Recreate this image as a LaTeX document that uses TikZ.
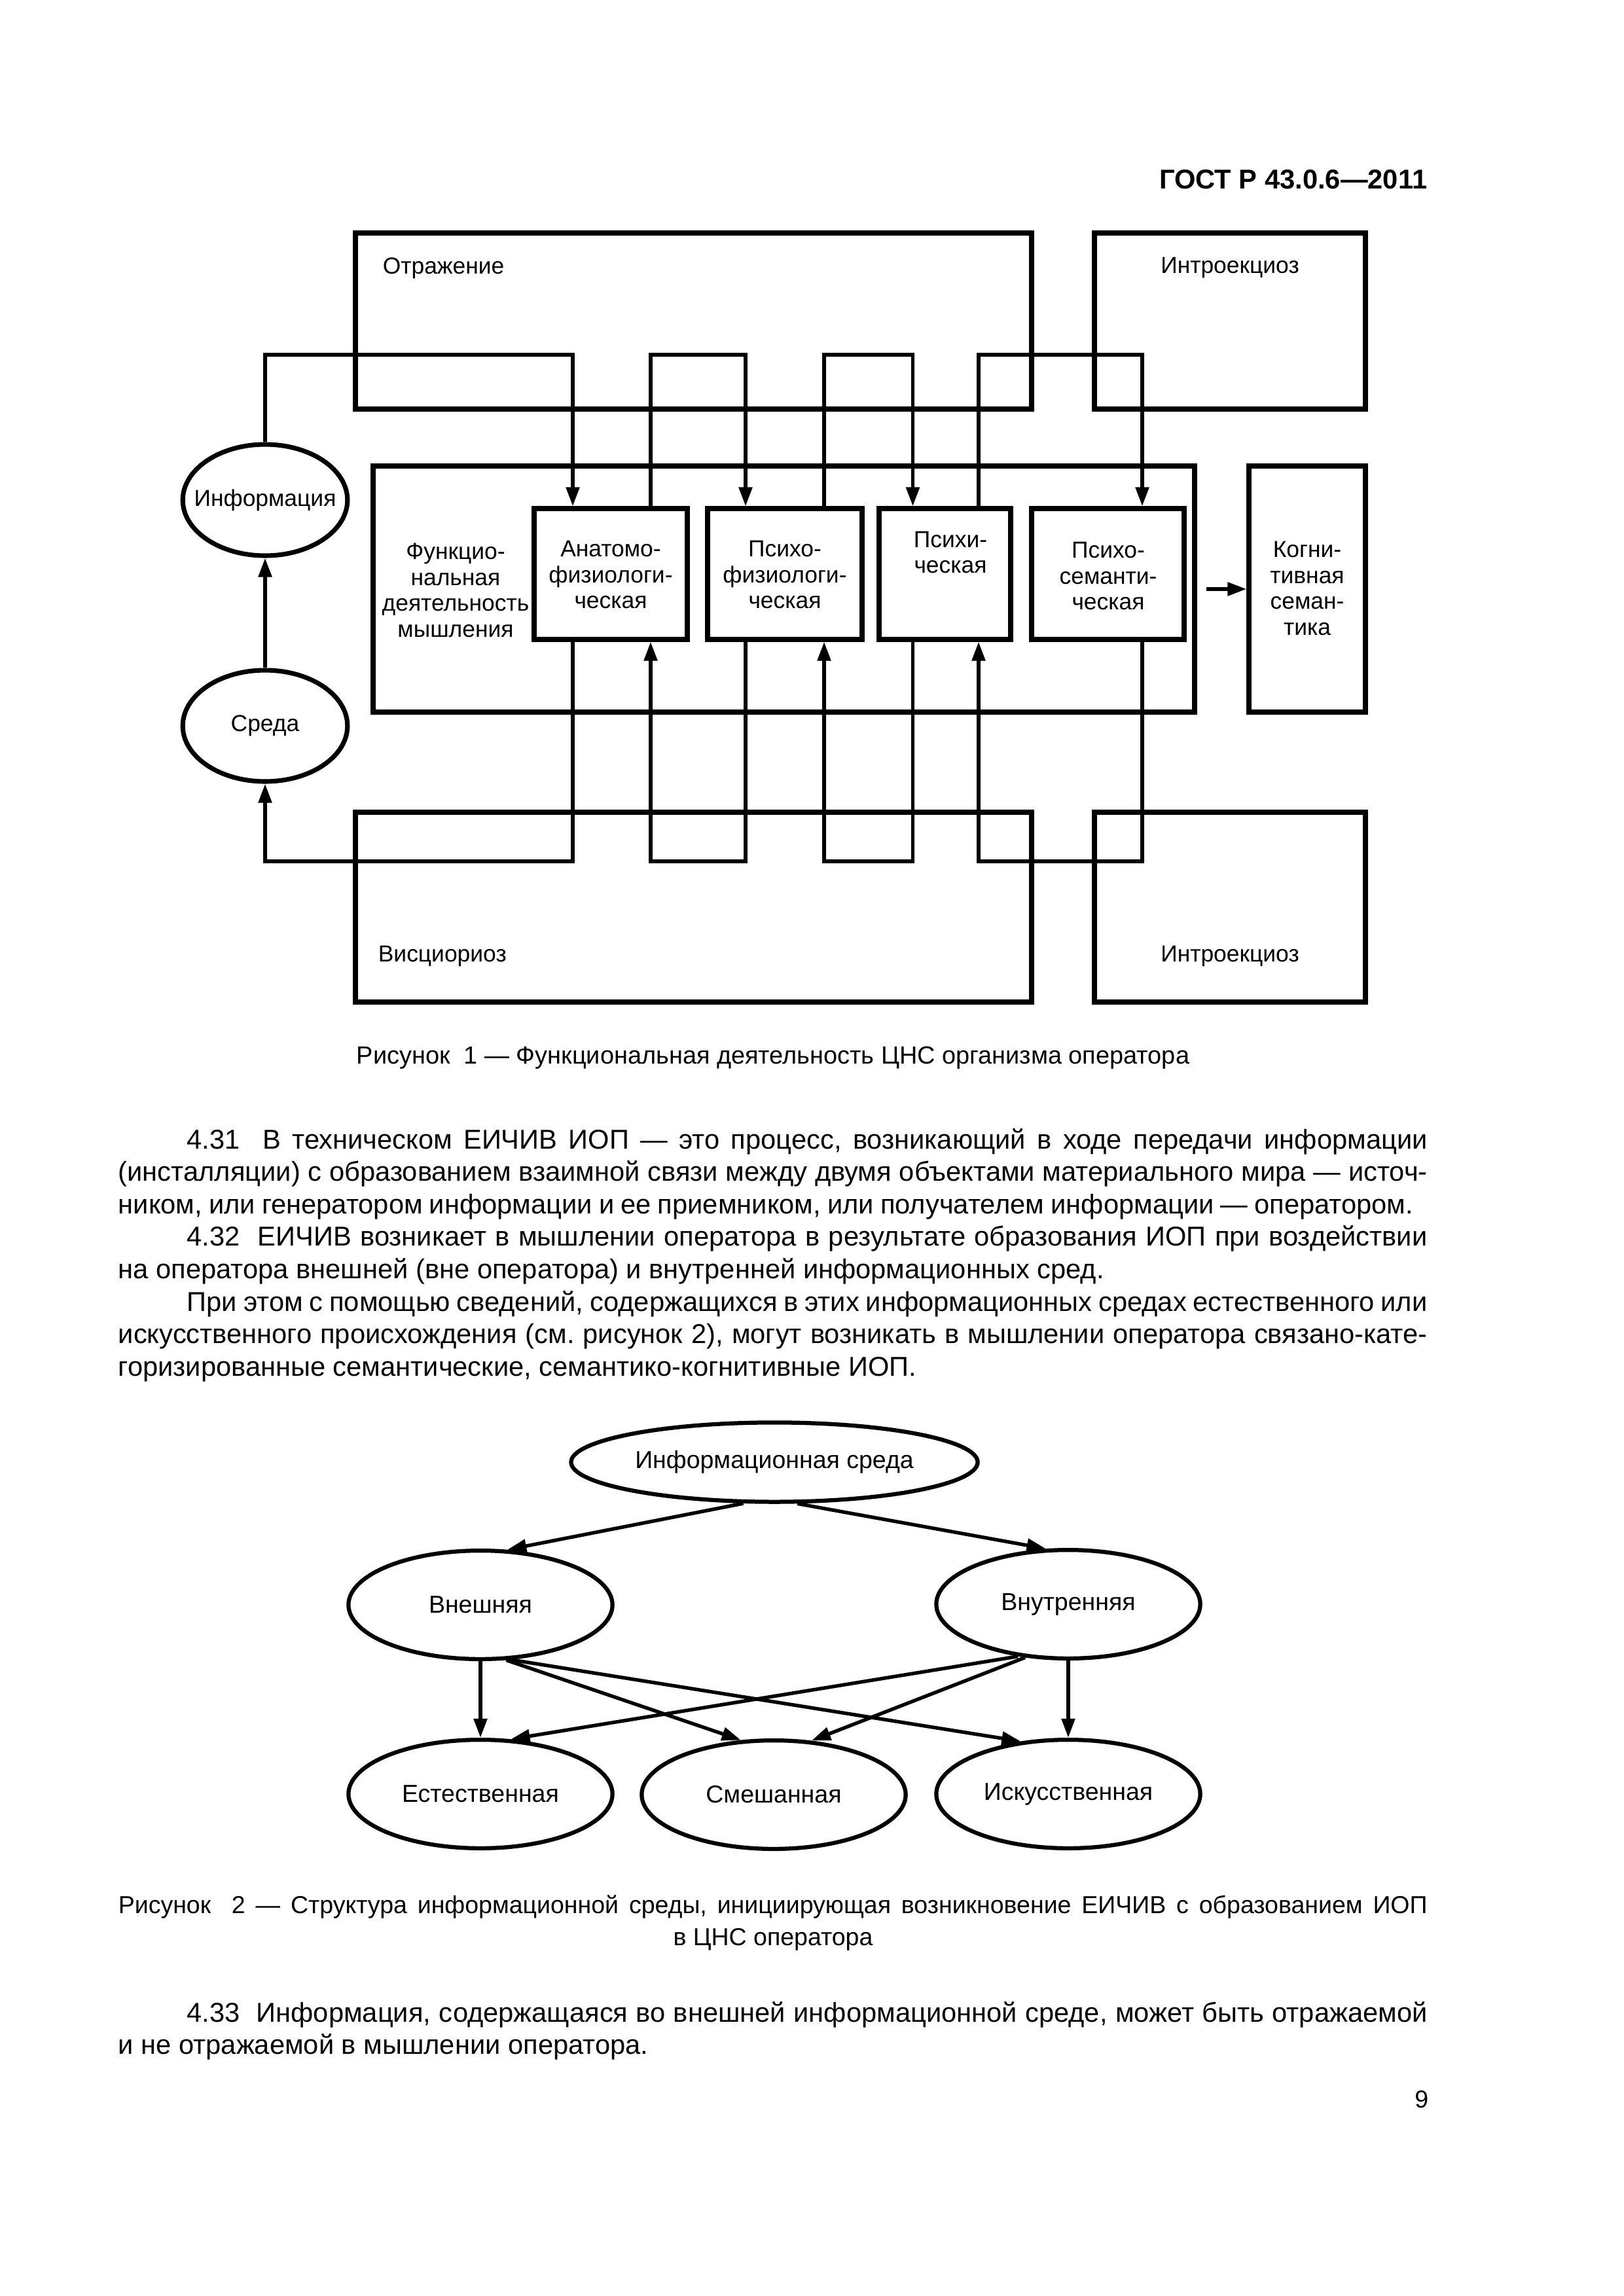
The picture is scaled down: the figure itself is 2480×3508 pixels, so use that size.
\documentclass[tikz,border=0pt]{standalone}
\usepackage{fontspec}
\setmainfont{Liberation Sans}
\usetikzlibrary{arrows.meta,shapes.geometric,fit}
\frenchspacing
\begin{document}
\begin{tikzpicture}[x=0.240031pt,y=-0.240031pt,
  box/.style={draw,line width=1.7pt,inner sep=0pt},
  conn/.style={line width=1.35pt},
  arr/.style={-{Triangle[length=7pt,width=4.8pt]}},
  fa/.style={font=\fontsize{8.5pt}{9.5pt}\selectfont},
  lbl/.style={fa,inner sep=0pt,align=center},
  oval1/.style={draw,ellipse,line width=1.7pt,inner sep=0pt,minimum width=60.4pt,minimum height=40.8pt,fa},
  oval2/.style={draw,ellipse,line width=1.5pt,inner sep=0pt,minimum width=96.8pt,minimum height=39.8pt,font=\fontsize{9pt}{11pt}\selectfont},
  conn2/.style={line width=1.3pt},
  bodytext/.style={font=\fontsize{10pt}{12pt}\selectfont,inner sep=0pt},
  captext/.style={font=\fontsize{9pt}{11pt}\selectfont,inner sep=0pt},
]
\useasboundingbox (0,0) rectangle (2480,3508);
\fill[white] (0,0) rectangle (2480,3508);

% header
\node[font=\fontsize{10pt}{12pt}\selectfont\bfseries,inner sep=0pt,anchor=base east] (hdr) at (2181,288) {ГОСТ Р 43.0.6—2011};

% ---------- Figure 1 ----------
\node[box,fit={(543,356)(1576,625)}] (refl) {};
\node[fa,inner sep=0pt,anchor=base west] (reflt) at (584,418) {Отражение};
\node[box,fit={(1672,356)(2086,625)}] (intT) {};
\node[fa,inner sep=0pt,anchor=base] (intTt) at (1879,417) {Интроекциоз};

\node[box,fit={(570,712)(1825,1088)}] (funct) {};
\node[lbl] (functt) at (696,902) {Функцио-\\нальная\\деятельность\\мышления};
\node[box,fit={(816,777)(1050,977)}] (anat) {};
\node[lbl] (anatt) at (933,878) {Анатомо-\\физиологи-\\ческая};
\node[box,fit={(1081,777)(1317,977)}] (pf) {};
\node[lbl] (pft) at (1199,878) {Психо-\\физиологи-\\ческая};
\node[box,fit={(1343,777)(1544,977)}] (psy) {};
\node[lbl] (psyt) at (1452,844) {Психи-\\ческая};
\node[box,fit={(1576,777)(1809,977)}] (ps) {};
\node[lbl] (pst) at (1693,880) {Психо-\\семанти-\\ческая};
\node[box,fit={(1908,712)(2086,1088)}] (cog) {};
\node[lbl] (cogt) at (1997,899) {Когни-\\тивная\\семан-\\тика};

\node[box,fit={(543,1241)(1576,1531)}] (vis) {};
\node[fa,inner sep=0pt,anchor=base west] (vist) at (577,1469) {Висциориоз};
\node[box,fit={(1672,1241)(2086,1531)}] (intB) {};
\node[fa,inner sep=0pt,anchor=base] (intBt) at (1879,1469) {Интроекциоз};

\node[oval1] (info) at (405,764) {\makebox[0pt]{Информация}};
\node[oval1] (sreda) at (405,1109) {\makebox[0pt]{Среда}};

\coordinate (c1) at (875,0);
\coordinate (c2) at (994,0);
\coordinate (c3) at (1139,0);
\coordinate (c4) at (1259,0);
\coordinate (c5) at (1394.5,0);
\coordinate (c6) at (1495,0);
\coordinate (c7) at (1745,0);
\coordinate (tb) at (0,542);
\coordinate (bb) at (0,1316);

\draw[conn,arr] (info.north) |- (c1|-tb) -- (c1|-anat.north);
\draw[conn,arr] (c2|-anat.north) -- (c2|-tb) -- (c3|-tb) -- (c3|-pf.north);
\draw[conn,arr] (c4|-pf.north) -- (c4|-tb) -- (c5|-tb) -- (c5|-psy.north);
\draw[conn,arr] (c6|-psy.north) -- (c6|-tb) -- (c7|-tb) -- (c7|-ps.north);
\draw[conn,arr] (c1|-anat.south) -- (c1|-bb) -| (sreda.south);
\draw[conn,arr] (c3|-pf.south) -- (c3|-bb) -- (c2|-bb) -- (c2|-anat.south);
\draw[conn,arr] (c5|-psy.south) -- (c5|-bb) -- (c4|-bb) -- (c4|-pf.south);
\draw[conn,arr] (c7|-ps.south) -- (c7|-bb) -- (c6|-bb) -- (c6|-psy.south);
\draw[conn,arr] (sreda.north) -- (info.south);
\coordinate (cs) at (1843,900);
\draw[conn,arr] (cs) -- (cog.west);

\node[captext,font=\fontsize{9.1pt}{11pt}\selectfont,anchor=base] (cap1) at (1181,1625) {Рисунок\ \ 1 — Функциональная деятельность ЦНС организма оператора};

% ---------- body text ----------
\node[bodytext,anchor=base west] (b1) at (180,1755) {\makebox[480pt][s]{\hspace*{25.2pt}4.31\ \ В техническом ЕИЧИВ ИОП — это процесс, возникающий в ходе передачи информации}};
\node[bodytext,anchor=base west] (b2) at (180,1804.6) {\makebox[480pt][s]{(инсталляции) с образованием взаимной связи между двумя объектами материального мира — источ-}};
\node[bodytext,anchor=base west] (b3) at (180,1854.2) {\makebox[474.8pt][s]{ником, или генератором информации и ее приемником, или получателем информации — оператором.}};
\node[bodytext,anchor=base west] (b4) at (180,1903.8) {\makebox[480pt][s]{\hspace*{25.2pt}4.32\ \ ЕИЧИВ возникает в мышлении оператора в результате образования ИОП при воздействии}};
\node[bodytext,anchor=base west] (b5) at (180,1953.4) {на оператора внешней (вне оператора) и внутренней информационных сред.};
\node[bodytext,anchor=base west] (b6) at (180,2003) {\makebox[480pt][s]{\hspace*{25.2pt}При этом с помощью сведений, содержащихся в этих информационных средах естественного или}};
\node[bodytext,anchor=base west] (b7) at (180,2052.6) {\makebox[480pt][s]{искусственного происхождения (см. рисунок 2), могут возникать в мышлении оператора связано-кате-}};
\node[bodytext,anchor=base west] (b8) at (180,2102.2) {горизированные семантические, семантико-когнитивные ИОП.};

% ---------- Figure 2 ----------
\node[oval2,minimum width=149.1pt,minimum height=29.1pt] (ienv) at (1183,2234) {Информационная среда};
\node[oval2] (ext) at (734,2452) {Внешняя};
\node[oval2] (int) at (1632,2451) {Внутренняя};
\node[oval2] (nat) at (734,2741) {Естественная};
\node[oval2] (mix) at (1182,2742) {Смешанная};
\node[oval2] (art) at (1632,2741) {Искусственная};

\draw[conn2,arr] (ienv.233) -- (ext.64);
\draw[conn2,arr] (ienv.299) -- (int.112);
\draw[conn2,arr] (ext.south) -- (nat.north);
\draw[conn2,arr] (ext.295) -- (mix.121);
\draw[conn2,arr] (ext.299) -- (art.132);
\draw[conn2,arr] (int.226.5) -- (nat.61);
\draw[conn2,arr] (int.231) -- (mix.55.5);
\draw[conn2,arr] (int.south) -- (art.north);

\node[captext,anchor=base west] (cap2a) at (180,2923) {\makebox[480pt][s]{Рисунок\ \ 2 — Структура информационной среды, инициирующая возникновение ЕИЧИВ с образованием ИОП}};
\node[captext,anchor=base] (cap2b) at (1181,2972) {в ЦНС оператора};

\node[bodytext,anchor=base west] (d1) at (180,3089) {\makebox[480pt][s]{\hspace*{25.2pt}4.33\ \ Информация, содержащаяся во внешней информационной среде, может быть отражаемой}};
\node[bodytext,anchor=base west] (d2) at (180,3138.6) {и не отражаемой в мышлении оператора.};

\node[captext,anchor=base east] (pg) at (2183,3220) {9};
\end{tikzpicture}
\end{document}
